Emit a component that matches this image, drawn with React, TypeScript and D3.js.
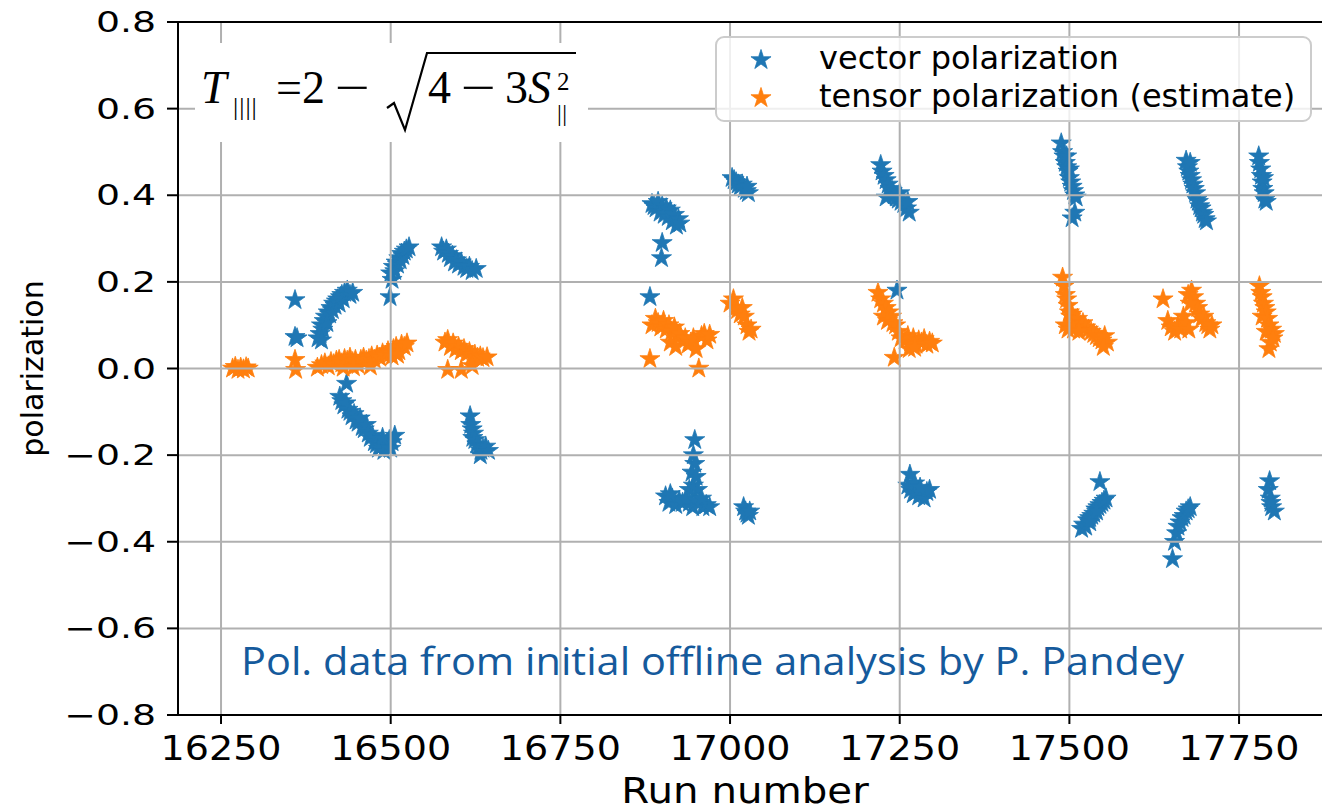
import React from "react";
import * as d3 from "d3";

// Axis ticks
const xTicks = [16250, 16500, 16750, 17000, 17250, 17500, 17750];
const yTicks = [-0.8, -0.6, -0.4, -0.2, 0.0, 0.2, 0.4, 0.6, 0.8];

// Series labels
const seriesNames = ["vector polarization", "tensor polarization (estimate)"];
const seriesColors = ["#1f77b4", "#ff7f0e"];

// Vector polarization: [run, polarization]
const vectorPolarization: [number, number][] = [
  [16359, 0.158], [16359, 0.073], [16362, 0.07],
  [16393, 0.07], [16396, 0.08], [16398, 0.1], [16400, 0.09], [16402, 0.11], [16404, 0.12],
  [16406, 0.105], [16408, 0.13], [16410, 0.125], [16412, 0.14], [16414, 0.135], [16416, 0.15],
  [16418, 0.145], [16420, 0.155], [16422, 0.16], [16424, 0.15], [16426, 0.165], [16428, 0.17],
  [16430, 0.16], [16432, 0.175], [16436, 0.18], [16440, 0.17], [16444, 0.175], [16398, 0.065],
  [16435, -0.035], [16425, -0.065], [16428, -0.075], [16431, -0.085], [16434, -0.08],
  [16437, -0.095], [16440, -0.1], [16443, -0.11], [16446, -0.105], [16449, -0.12],
  [16452, -0.125], [16455, -0.115], [16458, -0.135], [16461, -0.14], [16464, -0.13],
  [16467, -0.15], [16470, -0.16], [16473, -0.155], [16476, -0.17], [16479, -0.175],
  [16482, -0.185], [16486, -0.18], [16490, -0.19], [16494, -0.175], [16498, -0.165],
  [16502, -0.17], [16506, -0.155], [16488, -0.16], [16500, -0.185],
  [16499, 0.165], [16500, 0.22], [16502, 0.205], [16504, 0.235], [16506, 0.225], [16508, 0.245],
  [16510, 0.24], [16512, 0.255], [16514, 0.25], [16516, 0.265], [16518, 0.26], [16520, 0.27],
  [16523, 0.275], [16527, 0.28],
  [16575, 0.28], [16578, 0.27], [16582, 0.275], [16585, 0.265], [16588, 0.255], [16591, 0.26],
  [16594, 0.245], [16597, 0.25], [16600, 0.24], [16604, 0.245], [16608, 0.235], [16612, 0.23],
  [16616, 0.235], [16620, 0.225], [16626, 0.23],
  [16617, -0.11], [16618, -0.13], [16620, -0.14], [16622, -0.15], [16621, -0.16], [16624, -0.165],
  [16627, -0.175], [16630, -0.18], [16633, -0.19], [16636, -0.185], [16640, -0.18],
  [16632, -0.2], [16644, -0.19],
  [16885, 0.38], [16888, 0.375], [16891, 0.37], [16894, 0.385], [16897, 0.36], [16900, 0.375],
  [16903, 0.355], [16906, 0.37], [16909, 0.35], [16912, 0.365], [16915, 0.34], [16918, 0.355],
  [16921, 0.33], [16924, 0.345], [16926, 0.335], [16900, 0.29], [16899, 0.255], [16882, 0.165],
  [16948, -0.165], [16946, -0.2], [16948, -0.22], [16944, -0.24], [16950, -0.25], [16946, -0.27],
  [16940, -0.28], [16952, -0.28], [16905, -0.295], [16910, -0.31], [16915, -0.3], [16920, -0.315],
  [16925, -0.305], [16930, -0.31], [16935, -0.3], [16940, -0.31], [16945, -0.32], [16950, -0.305],
  [16955, -0.31], [16960, -0.32], [16965, -0.315], [16970, -0.32], [16912, -0.29], [16958, -0.3],
  [17003, 0.44], [17006, 0.435], [17009, 0.43], [17012, 0.425], [17015, 0.42], [17018, 0.425],
  [17021, 0.415], [17024, 0.41], [17027, 0.405], [17025, 0.42],
  [17020, -0.32], [17023, -0.33], [17025, -0.335], [17027, -0.34], [17029, -0.33],
  [17222, 0.47], [17224, 0.455], [17227, 0.445], [17230, 0.435], [17233, 0.425], [17236, 0.415],
  [17239, 0.41], [17242, 0.4], [17230, 0.395], [17245, 0.395], [17248, 0.39], [17252, 0.385],
  [17256, 0.38], [17260, 0.37], [17264, 0.36], [17262, 0.385], [17250, 0.405],
  [17246, 0.18],
  [17265, -0.245], [17262, -0.27], [17266, -0.28], [17270, -0.29], [17274, -0.285], [17278, -0.295],
  [17282, -0.29], [17286, -0.3], [17290, -0.285], [17294, -0.28], [17272, -0.265], [17280, -0.275],
  [17488, 0.52], [17490, 0.5], [17492, 0.49], [17494, 0.475], [17496, 0.465], [17498, 0.455],
  [17500, 0.44], [17502, 0.43], [17504, 0.42], [17506, 0.41], [17508, 0.4], [17510, 0.395],
  [17500, 0.46], [17504, 0.347], [17508, 0.36], [17496, 0.49],
  [17545, -0.262], [17518, -0.37], [17521, -0.36], [17524, -0.365], [17527, -0.35], [17530, -0.345],
  [17533, -0.34], [17536, -0.335], [17539, -0.325], [17542, -0.32], [17545, -0.315], [17548, -0.31],
  [17551, -0.305], [17554, -0.3], [17530, -0.355], [17540, -0.33],
  [17672, 0.48], [17674, 0.465], [17676, 0.455], [17678, 0.445], [17680, 0.435], [17682, 0.425],
  [17684, 0.415], [17686, 0.405], [17688, 0.39], [17690, 0.385], [17692, 0.375], [17694, 0.37],
  [17696, 0.36], [17698, 0.355], [17700, 0.345], [17702, 0.34], [17678, 0.475],
  [17652, -0.44], [17655, -0.4], [17658, -0.38], [17660, -0.365], [17663, -0.355], [17666, -0.345],
  [17669, -0.34], [17672, -0.33], [17675, -0.325], [17678, -0.32],
  [17779, 0.49], [17780, 0.475], [17782, 0.46], [17783, 0.445], [17784, 0.43], [17785, 0.415],
  [17787, 0.405], [17788, 0.39], [17790, 0.385], [17786, 0.44],
  [17795, -0.26], [17793, -0.28], [17796, -0.3], [17798, -0.32], [17802, -0.33], [17797, -0.31],
];

// Tensor polarization estimate: [run, polarization]
const tensorPolarization: [number, number][] = [
  [16267, 0], [16271, 0.004], [16275, -0.003], [16279, 0.002], [16283, -0.002], [16287, 0.003], [16290, 0],
  [16359, 0.02], [16360, -0.003],
  [16392, 0.002], [16398, 0.008], [16403, 0.012], [16408, 0.005], [16412, 0.015], [16416, 0.01],
  [16420, 0.018], [16424, 0.02], [16428, 0.012], [16432, 0.022], [16436, 0.018], [16440, 0.025],
  [16444, 0.015], [16448, 0.02], [16452, 0.008], [16456, 0.02], [16460, 0.025], [16464, 0.018],
  [16468, 0.022], [16472, 0.028], [16476, 0.02], [16480, 0.03], [16484, 0.025], [16488, 0.035],
  [16492, 0.03], [16496, 0.04], [16500, 0.035], [16504, 0.045], [16508, 0.05], [16512, 0.04],
  [16516, 0.055], [16520, 0.05], [16524, 0.058], [16502, 0.028], [16510, 0.032], [16430, 0.002],
  [16445, 0.003], [16470, 0.005],
  [16580, 0.06], [16584, 0.066], [16588, 0.05], [16592, 0.058], [16596, 0.045], [16600, 0.05],
  [16604, 0.04], [16608, 0.045], [16612, 0.035], [16616, 0.038], [16620, 0.03], [16624, 0.032],
  [16628, 0.025], [16632, 0.028], [16636, 0.024], [16642, 0.026], [16584, -0.003], [16604, -0.003],
  [16620, 0.006],
  [16882, 0.022], [16885, 0.1], [16890, 0.115], [16894, 0.105], [16898, 0.095], [16902, 0.11],
  [16906, 0.09], [16910, 0.1], [16914, 0.085], [16918, 0.095], [16922, 0.075], [16926, 0.08],
  [16930, 0.065], [16934, 0.07], [16938, 0.055], [16942, 0.06], [16946, 0.07], [16950, 0.045],
  [16954, 0.0], [16958, 0.075], [16962, 0.08], [16966, 0.065], [16970, 0.078], [16912, 0.06],
  [16920, 0.05],
  [17000, 0.15], [17005, 0.16], [17008, 0.14], [17011, 0.135], [17015, 0.125], [17018, 0.14],
  [17021, 0.12], [17025, 0.1], [17028, 0.085], [17031, 0.09],
  [17218, 0.175], [17222, 0.16], [17226, 0.15], [17230, 0.14], [17234, 0.13], [17238, 0.12],
  [17226, 0.12], [17232, 0.11], [17240, 0.105], [17244, 0.1], [17248, 0.085], [17242, 0.025],
  [17252, 0.07], [17258, 0.065], [17262, 0.075], [17266, 0.06], [17270, 0.07], [17274, 0.055],
  [17278, 0.065], [17282, 0.06], [17286, 0.068], [17290, 0.055], [17294, 0.062], [17298, 0.058],
  [17264, 0.045], [17272, 0.048],
  [17490, 0.21], [17492, 0.19], [17494, 0.17], [17496, 0.16], [17498, 0.145], [17500, 0.13],
  [17502, 0.12], [17494, 0.1], [17498, 0.09], [17504, 0.125], [17508, 0.11], [17512, 0.115],
  [17516, 0.1], [17520, 0.105], [17524, 0.095], [17528, 0.09], [17532, 0.085], [17536, 0.08],
  [17540, 0.075], [17544, 0.07], [17548, 0.065], [17552, 0.075], [17556, 0.06], [17550, 0.05],
  [17506, 0.09], [17514, 0.085],
  [17638, 0.16], [17645, 0.11], [17650, 0.095], [17655, 0.085], [17660, 0.1], [17664, 0.09],
  [17668, 0.12], [17672, 0.105], [17676, 0.09], [17680, 0.18], [17683, 0.165], [17686, 0.15],
  [17689, 0.14], [17692, 0.125], [17695, 0.115], [17698, 0.12], [17701, 0.105], [17704, 0.1],
  [17707, 0.09], [17710, 0.1], [17675, 0.17], [17678, 0.15],
  [17780, 0.19], [17782, 0.175], [17784, 0.165], [17786, 0.15], [17788, 0.14], [17790, 0.13],
  [17784, 0.12], [17792, 0.115], [17794, 0.1], [17790, 0.085], [17798, 0.09], [17802, 0.08],
  [17796, 0.06], [17794, 0.045], [17800, 0.07],
];

const W = 1322;
const H = 804;
const left = 178;
const right = 1330;
const top = 22;
const bottom = 715;

const x = d3.scaleLinear().domain([16186.6, 17884]).range([left, right]);
const y = d3.scaleLinear().domain([-0.8, 0.8]).range([bottom, top]);
const star = d3.symbol().type(d3.symbolStar).size(125)() as string;

const tickFont = "DejaVu Sans, Verdana, sans-serif";
const mathFont = "Liberation Serif, DejaVu Serif, serif";

function fmtY(v: number) {
  const s = Math.abs(v).toFixed(1);
  return v < 0 ? "\u2212" + s : s;
}

export default function App() {
  const series = [vectorPolarization, tensorPolarization];
  return (
    <svg
      width={W}
      height={H}
      style={{ position: "absolute", left: 0, top: 0, background: "#fff" }}
    >
      <rect x={0} y={0} width={W} height={H} fill="#fff" />
      <defs>
        <clipPath id="plot-area">
          <rect x={left} y={top} width={right - left} height={bottom - top} />
        </clipPath>
      </defs>

      {/* scatter markers */}
      <g clipPath="url(#plot-area)">
        {series.map((pts, si) => (
          <g key={si} fill={seriesColors[si]} stroke={seriesColors[si]} strokeWidth={0.8}>
            {pts.map(([r, v], i) => (
              <path key={i} d={star} transform={`translate(${x(r)},${y(v)})`} />
            ))}
          </g>
        ))}
      </g>

      {/* grid drawn over the markers */}
      <g stroke="#b0b0b0" strokeWidth={2}>
        {xTicks.map((t) => (
          <line key={t} x1={x(t)} x2={x(t)} y1={top} y2={bottom} />
        ))}
        {yTicks.map((t) => (
          <line key={t} x1={left} x2={right} y1={y(t)} y2={y(t)} />
        ))}
      </g>

      {/* spines */}
      <g stroke="#000" strokeWidth={2} fill="none">
        <line x1={left} x2={left} y1={top - 1} y2={bottom + 1} />
        <line x1={left - 1} x2={right} y1={top} y2={top} />
        <line x1={left - 1} x2={right} y1={bottom} y2={bottom} />
      </g>

      {/* y axis */}
      <g>
        {yTicks.map((t) => (
          <g key={t}>
            <line x1={left - 11} x2={left} y1={y(t)} y2={y(t)} stroke="#000" strokeWidth={2} />
            <text
              transform={`translate(${left - 22},${y(t) + 10}) scale(1.35,1)`}
              textAnchor="end"
              fontFamily={tickFont}
              fontSize={28}
              fill="#000"
            >
              {fmtY(t)}
            </text>
          </g>
        ))}
        <text
          transform={`translate(43,${(top + bottom) / 2}) rotate(-90)`}
          textAnchor="middle"
          fontFamily={tickFont}
          fontSize={30}
          fill="#000"
        >
          polarization
        </text>
      </g>

      {/* x axis */}
      <g>
        {xTicks.map((t) => (
          <g key={t}>
            <line x1={x(t)} x2={x(t)} y1={bottom} y2={bottom + 9} stroke="#000" strokeWidth={2} />
            <text
              transform={`translate(${x(t)},${bottom + 45}) scale(1.12,1)`}
              textAnchor="middle"
              fontFamily={tickFont}
              fontSize={34}
              fill="#000"
            >
              {t}
            </text>
          </g>
        ))}
        <text
          transform={`translate(745,803) scale(1.12,1)`}
          textAnchor="middle"
          fontFamily={tickFont}
          fontSize={36}
          fill="#000"
        >
          Run number
        </text>
      </g>

      {/* formula box */}
      <g>
        <rect x={195} y={43} width={393} height={99} fill="#fff" />
        <g fontFamily={mathFont} fill="#000">
          <text x={201} y={103} fontSize={46} fontStyle="italic">T</text>
          <text x={233} y={115} fontSize={26} letterSpacing={1}>||||</text>
          <text x={276} y={103} fontSize={46}>=2</text>
          <text transform="translate(335,103) scale(1.35,1)" fontSize={46}>−</text>
          <path d="M387,108 L394,103 L405,130 L427,53 L576,53" fill="none" stroke="#000" strokeWidth={2.2} strokeLinejoin="miter" />
          <text x={428} y={103} fontSize={46}>4</text>
          <text transform="translate(461,103) scale(1.35,1)" fontSize={46}>−</text>
          <text x={505} y={103} fontSize={46}>3</text>
          <text x={528} y={103} fontSize={46} fontStyle="italic">S</text>
          <text x={557} y={90} fontSize={25}>2</text>
          <text x={557} y={121} fontSize={24} letterSpacing={0.5}>||</text>
        </g>
      </g>

      {/* annotation */}
      <text
        x={241}
        y={675}
        fontFamily="Open Sans, Noto Sans, sans-serif"
        fontSize={38}
        fill="#155a9c"
        textLength={943}
        lengthAdjust="spacingAndGlyphs"
      >
        Pol. data from initial offline analysis by P. Pandey
      </text>

      {/* legend */}
      <g>
        <rect x={716} y={37} width={595} height={84} rx={8} ry={8} fill="#fff" fillOpacity={0.8} stroke="#cccccc" strokeWidth={2} />
        {seriesNames.map((name, i) => (
          <g key={name}>
            <path d={star} transform={`translate(761,${60 + i * 38})`} fill={seriesColors[i]} stroke={seriesColors[i]} strokeWidth={0.8} />
            <text x={819} y={69 + i * 38} fontFamily={tickFont} fontSize={32} fill="#000">
              {name}
            </text>
          </g>
        ))}
      </g>
    </svg>
  );
}
